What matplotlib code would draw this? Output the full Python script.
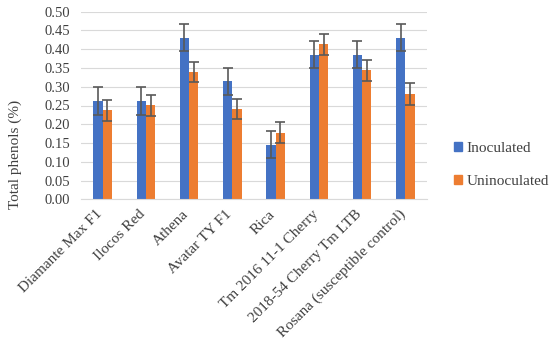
import numpy as np
import matplotlib.pyplot as plt
import matplotlib.transforms as mtransforms
from matplotlib.patches import Patch

plt.rcParams['font.family'] = ['Liberation Serif', 'DejaVu Serif']

# datos
cultivares = ['Diamante Max F1', 'Ilocos Red', 'Athena', 'Avatar TY F1', 'Rica',
              'Tm 2016 11-1 Cherry', '2018-54 Cherry Tm LTB', 'Rosana (susceptible control)']
inoculado = [0.262, 0.262, 0.430, 0.315, 0.145, 0.385, 0.385, 0.430]
err_inoculado = [0.036, 0.036, 0.036, 0.036, 0.036, 0.036, 0.036, 0.036]
no_inoculado = [0.237, 0.251, 0.339, 0.241, 0.178, 0.413, 0.344, 0.281]
err_no_inoculado = [0.028, 0.028, 0.027, 0.027, 0.027, 0.028, 0.028, 0.029]

azul = '#4472C4'
naranja = '#ED7D31'

fig = plt.figure(figsize=(5.5, 3.45), dpi=100)
ax = fig.add_axes([81/550, 1 - 199.3/345, (427 - 81)/550, (199.3 - 11.7)/345])

x = np.arange(len(cultivares))
w = 0.215
ekw = dict(ecolor='#595959', elinewidth=1.2, capsize=3.5, capthick=1.2)
ax.bar(x - w/2, inoculado, w, yerr=err_inoculado, color=azul, error_kw=ekw, zorder=2)
ax.bar(x + w/2, no_inoculado, w, yerr=err_no_inoculado, color=naranja, error_kw=ekw, zorder=2)

ax.set_xlim(-0.5, len(cultivares) - 0.5)
ax.set_ylim(0, 0.5)
ax.set_yticks(np.arange(0, 0.501, 0.05))
ax.set_yticklabels(['%.2f' % v for v in np.arange(0, 0.501, 0.05)], fontsize=10.5, color='#404040')
ax.yaxis.grid(True, color='#d9d9d9', linewidth=0.8, zorder=0)
ax.set_axisbelow(True)
for s in ['top', 'right', 'left']:
    ax.spines[s].set_visible(False)
ax.spines['bottom'].set_color('#d9d9d9')
ax.tick_params(axis='both', length=0)
ax.tick_params(axis='y', pad=8)

ax.set_xticks(x)
ax.set_xticklabels(cultivares, rotation=45, ha='right', rotation_mode='anchor',
                   fontsize=11, color='#404040')
ax.tick_params(axis='x', pad=6)
# correr un poco las etiquetas hacia la izquierda
desplazamiento = mtransforms.ScaledTranslation(-7/100, 0, fig.dpi_scale_trans)
for etiqueta in ax.get_xticklabels():
    etiqueta.set_transform(etiqueta.get_transform() + desplazamiento)

fig.text(15/550, 1 - 154/345, 'Total phenols (%)', rotation=90, ha='center', va='center',
         fontsize=11, color='#404040')

handles = [Patch(color=azul, label='Inoculated'), Patch(color=naranja, label='Uninoculated')]
fig.legend(handles=handles, loc='upper left', bbox_to_anchor=(440/550, 1 - 128/345),
           frameon=False, fontsize=11, labelspacing=1.3, handlelength=0.55,
           handleheight=0.55, handletextpad=0.3, labelcolor='#404040')

fig.savefig('out.png', dpi=100)
